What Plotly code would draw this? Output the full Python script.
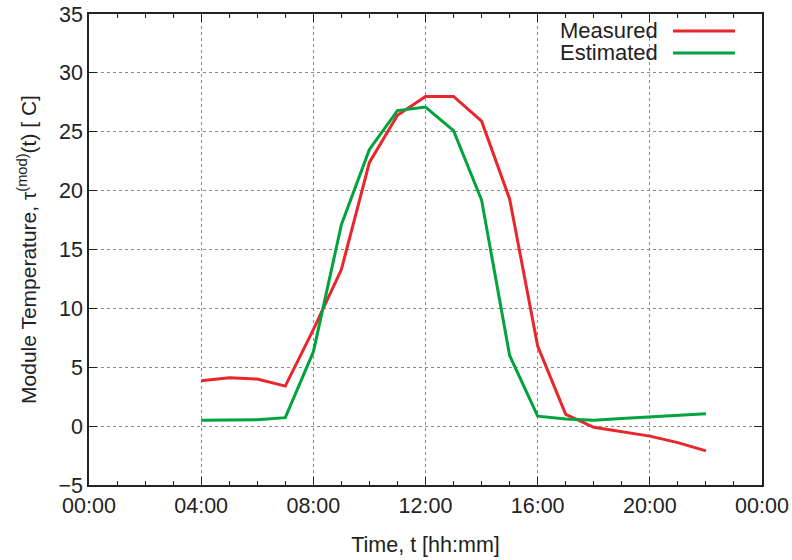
import plotly.graph_objects as go

hours = list(range(4, 23))
measured = [3.85, 4.1, 4.0, 3.4, 8.2, 13.3, 22.4, 26.4, 28.0, 28.0, 25.9, 19.3, 6.8, 1.0, -0.1, -0.45, -0.85, -1.4, -2.1]
estimated = [0.5, 0.52, 0.55, 0.72, 6.3, 17.1, 23.5, 26.8, 27.1, 25.1, 19.2, 6.0, 0.85, 0.6, 0.5, 0.65, 0.8, 0.9, 1.05]

x_tickvals = [0, 4, 8, 12, 16, 20, 24]
x_ticktext = ["00:00", "04:00", "08:00", "12:00", "16:00", "20:00", "00:00"]
y_tickvals = [-5, 0, 5, 10, 15, 20, 25, 30, 35]

RED = "#e8262b"
GREEN = "#00a33d"
FONT = "Liberation Sans, Arial, sans-serif"
TXT = "#222222"
FS = 21.5

L, R, T, B = 89, 762, 14, 485

fig = go.Figure()
fig.add_trace(go.Scatter(x=hours, y=measured, mode="lines", name="Measured",
                         line=dict(color=RED, width=3)))
fig.add_trace(go.Scatter(x=hours, y=estimated, mode="lines", name="Estimated",
                         line=dict(color=GREEN, width=3)))

axis_common = dict(showline=True, linecolor="#222", linewidth=1.5, mirror="ticks",
                   ticks="inside", tickcolor="#222", ticklen=8, tickwidth=1,
                   showgrid=True, gridcolor="#8a8a8a", griddash="dot", gridwidth=1,
                   zeroline=False, automargin=False,
                   tickfont=dict(family=FONT, size=FS, color=TXT))

fig.update_xaxes(range=[0, 24], tickvals=x_tickvals, ticktext=x_ticktext,
                 minor=dict(dtick=1, tick0=0, ticks="inside", ticklen=4, tickcolor="#222", showgrid=False),
                 title=dict(text="Time, t [hh:mm]", font=dict(family=FONT, size=FS, color=TXT), standoff=20),
                 **axis_common)
fig.update_yaxes(range=[-5, 35], tickvals=y_tickvals,
                 title=dict(text="Module Temperature, τ<sup>(mod)</sup>(t) [ C]",
                            font=dict(family=FONT, size=FS - 0.5, color=TXT), standoff=16),
                 **axis_common)

# legend (gnuplot style: text then sample)
legend_items = [("Measured", RED, 31), ("Estimated", GREEN, 53)]
for label, col, ypx in legend_items:
    yp = 1 - (ypx - T) / (B - T)
    fig.add_annotation(xref="paper", yref="paper", x=(660 - L) / (R - L), y=yp,
                       text=label, showarrow=False, xanchor="right", yanchor="middle",
                       xshift=0, font=dict(family=FONT, size=FS + 0.5, color=TXT))
    fig.add_shape(type="line", xref="paper", yref="paper",
                  x0=(673 - L) / (R - L), x1=(735 - L) / (R - L), y0=yp, y1=yp,
                  line=dict(color=col, width=3))

fig.update_layout(width=792, height=560, margin=dict(l=L, r=792 - R, t=T, b=560 - B),
                  paper_bgcolor="white", plot_bgcolor="white", showlegend=False)

fig.write_html("out.html")
